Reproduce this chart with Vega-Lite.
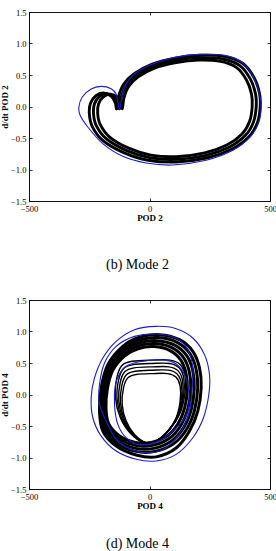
{
"$schema": "https://vega.github.io/schema/vega-lite/v6.json",
"padding": {"left": 0, "top": 7, "right": 0, "bottom": 0},
"spacing": 99,
"bounds": "flush",
"config": {
 "view": {"stroke": "#111", "strokeWidth": 1},
 "axis": {"domain": false, "grid": false, "labelFont": "Liberation Serif", "labelFontSize": 8.5, "labelColor": "#000", "titleFont": "Liberation Serif", "titleFontSize": 9, "titleFontWeight": "bold", "titleColor": "#000", "tickColor": "#000", "tickSize": -3, "tickWidth": 0.8, "labelFlush": false, "labelPadding": 6, "titlePadding": 1},
 "title": {"font": "Liberation Serif", "fontSize": 14, "fontWeight": "normal", "color": "#000", "orient": "bottom", "anchor": "middle", "dx": -12}
},
"datasets": {
"mode2": [
{"loop":"a","group":"band","i":1,"x":-112.7,"y":-0.032},{"loop":"a","group":"band","i":2,"x":-105.6,"y":0.143},{"loop":"a","group":"band","i":3,"x":-86.4,"y":0.319},{"loop":"a","group":"band","i":4,"x":-47.0,"y":0.470},{"loop":"a","group":"band","i":5,"x":18.7,"y":0.606},{"loop":"a","group":"band","i":6,"x":110.6,"y":0.696},{"loop":"a","group":"band","i":7,"x":202.7,"y":0.736},{"loop":"a","group":"band","i":8,"x":294.6,"y":0.716},{"loop":"a","group":"band","i":9,"x":360.3,"y":0.620},{"loop":"a","group":"band","i":10,"x":402.4,"y":0.420},{"loop":"a","group":"band","i":11,"x":423.4,"y":0.194},{"loop":"a","group":"band","i":12,"x":426.0,"y":-0.008},{"loop":"a","group":"band","i":13,"x":415.5,"y":-0.234},{"loop":"a","group":"band","i":14,"x":383.9,"y":-0.435},{"loop":"a","group":"band","i":15,"x":320.9,"y":-0.611},{"loop":"a","group":"band","i":16,"x":228.9,"y":-0.736},{"loop":"a","group":"band","i":17,"x":110.6,"y":-0.797},{"loop":"a","group":"band","i":18,"x":5.6,"y":-0.771},{"loop":"a","group":"band","i":19,"x":-86.4,"y":-0.661},{"loop":"a","group":"band","i":20,"x":-165.3,"y":-0.485},{"loop":"a","group":"band","i":21,"x":-204.7,"y":-0.284},{"loop":"a","group":"band","i":22,"x":-215.1,"y":-0.108},{"loop":"a","group":"band","i":23,"x":-211.2,"y":0.043},{"loop":"a","group":"band","i":24,"x":-191.6,"y":0.153},{"loop":"a","group":"band","i":25,"x":-162.6,"y":0.194},{"loop":"a","group":"band","i":26,"x":-132.4,"y":0.143},{"loop":"a","group":"band","i":27,"x":-117.9,"y":0.053},
{"loop":"b","group":"band","i":1,"x":-124.5,"y":-0.034},{"loop":"b","group":"band","i":2,"x":-117.0,"y":0.151},{"loop":"b","group":"band","i":3,"x":-96.8,"y":0.336},{"loop":"b","group":"band","i":4,"x":-55.3,"y":0.495},{"loop":"b","group":"band","i":5,"x":13.8,"y":0.638},{"loop":"b","group":"band","i":6,"x":110.6,"y":0.733},{"loop":"b","group":"band","i":7,"x":207.5,"y":0.775},{"loop":"b","group":"band","i":8,"x":304.3,"y":0.754},{"loop":"b","group":"band","i":9,"x":373.4,"y":0.653},{"loop":"b","group":"band","i":10,"x":417.7,"y":0.442},{"loop":"b","group":"band","i":11,"x":439.8,"y":0.204},{"loop":"b","group":"band","i":12,"x":442.6,"y":-0.008},{"loop":"b","group":"band","i":13,"x":431.5,"y":-0.246},{"loop":"b","group":"band","i":14,"x":398.3,"y":-0.458},{"loop":"b","group":"band","i":15,"x":331.9,"y":-0.643},{"loop":"b","group":"band","i":16,"x":235.1,"y":-0.775},{"loop":"b","group":"band","i":17,"x":110.6,"y":-0.839},{"loop":"b","group":"band","i":18,"x":0.0,"y":-0.812},{"loop":"b","group":"band","i":19,"x":-96.8,"y":-0.696},{"loop":"b","group":"band","i":20,"x":-179.8,"y":-0.511},{"loop":"b","group":"band","i":21,"x":-221.3,"y":-0.299},{"loop":"b","group":"band","i":22,"x":-232.3,"y":-0.114},{"loop":"b","group":"band","i":23,"x":-228.2,"y":0.045},{"loop":"b","group":"band","i":24,"x":-207.5,"y":0.161},{"loop":"b","group":"band","i":25,"x":-177.0,"y":0.204},{"loop":"b","group":"band","i":26,"x":-145.2,"y":0.151},{"loop":"b","group":"band","i":27,"x":-130.0,"y":0.056},
{"loop":"c","group":"band","i":1,"x":-136.3,"y":-0.036},{"loop":"c","group":"band","i":2,"x":-128.4,"y":0.159},{"loop":"c","group":"band","i":3,"x":-107.2,"y":0.353},{"loop":"c","group":"band","i":4,"x":-63.6,"y":0.520},{"loop":"c","group":"band","i":5,"x":8.9,"y":0.670},{"loop":"c","group":"band","i":6,"x":110.6,"y":0.770},{"loop":"c","group":"band","i":7,"x":212.3,"y":0.814},{"loop":"c","group":"band","i":8,"x":314.0,"y":0.792},{"loop":"c","group":"band","i":9,"x":386.5,"y":0.686},{"loop":"c","group":"band","i":10,"x":433.0,"y":0.464},{"loop":"c","group":"band","i":11,"x":456.2,"y":0.214},{"loop":"c","group":"band","i":12,"x":459.2,"y":-0.008},{"loop":"c","group":"band","i":13,"x":447.5,"y":-0.258},{"loop":"c","group":"band","i":14,"x":412.7,"y":-0.481},{"loop":"c","group":"band","i":15,"x":342.9,"y":-0.675},{"loop":"c","group":"band","i":16,"x":241.3,"y":-0.814},{"loop":"c","group":"band","i":17,"x":110.6,"y":-0.881},{"loop":"c","group":"band","i":18,"x":-5.6,"y":-0.853},{"loop":"c","group":"band","i":19,"x":-107.2,"y":-0.731},{"loop":"c","group":"band","i":20,"x":-194.3,"y":-0.537},{"loop":"c","group":"band","i":21,"x":-237.9,"y":-0.314},{"loop":"c","group":"band","i":22,"x":-249.5,"y":-0.120},{"loop":"c","group":"band","i":23,"x":-245.2,"y":0.047},{"loop":"c","group":"band","i":24,"x":-223.4,"y":0.169},{"loop":"c","group":"band","i":25,"x":-191.4,"y":0.214},{"loop":"c","group":"band","i":26,"x":-158.0,"y":0.159},{"loop":"c","group":"band","i":27,"x":-142.1,"y":0.059},
{"loop":"r","group":"ref","i":1,"x":-124.0,"y":-0.045},{"loop":"r","group":"ref","i":2,"x":-116.0,"y":0.12},{"loop":"r","group":"ref","i":3,"x":-104.0,"y":0.3},{"loop":"r","group":"ref","i":4,"x":-69.0,"y":0.495},{"loop":"r","group":"ref","i":5,"x":0.0,"y":0.653},{"loop":"r","group":"ref","i":6,"x":97.0,"y":0.775},{"loop":"r","group":"ref","i":7,"x":207.0,"y":0.828},{"loop":"r","group":"ref","i":8,"x":318.0,"y":0.807},{"loop":"r","group":"ref","i":9,"x":387.0,"y":0.69},{"loop":"r","group":"ref","i":10,"x":431.0,"y":0.468},{"loop":"r","group":"ref","i":11,"x":456.0,"y":0.204},{"loop":"r","group":"ref","i":12,"x":463.0,"y":-0.008},{"loop":"r","group":"ref","i":13,"x":454.0,"y":-0.246},{"loop":"r","group":"ref","i":14,"x":418.0,"y":-0.484},{"loop":"r","group":"ref","i":15,"x":346.0,"y":-0.696},{"loop":"r","group":"ref","i":16,"x":235.0,"y":-0.854},{"loop":"r","group":"ref","i":17,"x":97.0,"y":-0.929},{"loop":"r","group":"ref","i":18,"x":-14.0,"y":-0.897},{"loop":"r","group":"ref","i":19,"x":-111.0,"y":-0.791},{"loop":"r","group":"ref","i":20,"x":-194.0,"y":-0.59},{"loop":"r","group":"ref","i":21,"x":-256.0,"y":-0.325},{"loop":"r","group":"ref","i":22,"x":-288.0,"y":-0.14},{"loop":"r","group":"ref","i":23,"x":-293.0,"y":-0.008},{"loop":"r","group":"ref","i":24,"x":-279.0,"y":0.151},{"loop":"r","group":"ref","i":25,"x":-242.0,"y":0.278},{"loop":"r","group":"ref","i":26,"x":-201.0,"y":0.32},{"loop":"r","group":"ref","i":27,"x":-159.0,"y":0.283},{"loop":"r","group":"ref","i":28,"x":-138.0,"y":0.193},{"loop":"r","group":"ref","i":29,"x":-132.0,"y":0.08}
],
"mode4": [
{"loop":"o1","group":"band","i":1,"x":18.6,"y":0.760},{"loop":"o1","group":"band","i":2,"x":85.0,"y":0.697},{"loop":"o1","group":"band","i":3,"x":129.2,"y":0.549},{"loop":"o1","group":"band","i":4,"x":151.4,"y":0.338},{"loop":"o1","group":"band","i":5,"x":156.9,"y":0.085},{"loop":"o1","group":"band","i":6,"x":145.8,"y":-0.211},{"loop":"o1","group":"band","i":7,"x":118.2,"y":-0.464},{"loop":"o1","group":"band","i":8,"x":73.9,"y":-0.654},{"loop":"o1","group":"band","i":9,"x":7.6,"y":-0.760},{"loop":"o1","group":"band","i":10,"x":-58.8,"y":-0.760},{"loop":"o1","group":"band","i":11,"x":-125.2,"y":-0.654},{"loop":"o1","group":"band","i":12,"x":-169.5,"y":-0.464},{"loop":"o1","group":"band","i":13,"x":-180.6,"y":-0.211},{"loop":"o1","group":"band","i":14,"x":-175.0,"y":0.085},{"loop":"o1","group":"band","i":15,"x":-152.9,"y":0.380},{"loop":"o1","group":"band","i":16,"x":-103.1,"y":0.612},{"loop":"o1","group":"band","i":17,"x":-47.8,"y":0.726},
{"loop":"o2","group":"band","i":1,"x":24.3,"y":0.808},{"loop":"o2","group":"band","i":2,"x":94.8,"y":0.740},{"loop":"o2","group":"band","i":3,"x":141.8,"y":0.583},{"loop":"o2","group":"band","i":4,"x":165.4,"y":0.359},{"loop":"o2","group":"band","i":5,"x":171.2,"y":0.090},{"loop":"o2","group":"band","i":6,"x":159.4,"y":-0.224},{"loop":"o2","group":"band","i":7,"x":130.1,"y":-0.493},{"loop":"o2","group":"band","i":8,"x":83.0,"y":-0.695},{"loop":"o2","group":"band","i":9,"x":12.5,"y":-0.808},{"loop":"o2","group":"band","i":10,"x":-58.0,"y":-0.808},{"loop":"o2","group":"band","i":11,"x":-128.6,"y":-0.695},{"loop":"o2","group":"band","i":12,"x":-175.6,"y":-0.493},{"loop":"o2","group":"band","i":13,"x":-187.4,"y":-0.224},{"loop":"o2","group":"band","i":14,"x":-181.4,"y":0.090},{"loop":"o2","group":"band","i":15,"x":-158.0,"y":0.404},{"loop":"o2","group":"band","i":16,"x":-105.0,"y":0.650},{"loop":"o2","group":"band","i":17,"x":-46.3,"y":0.772},
{"loop":"o3","group":"band","i":1,"x":30.1,"y":0.855},{"loop":"o3","group":"band","i":2,"x":104.8,"y":0.784},{"loop":"o3","group":"band","i":3,"x":154.5,"y":0.617},{"loop":"o3","group":"band","i":4,"x":179.5,"y":0.380},{"loop":"o3","group":"band","i":5,"x":185.7,"y":0.095},{"loop":"o3","group":"band","i":6,"x":173.2,"y":-0.238},{"loop":"o3","group":"band","i":7,"x":142.1,"y":-0.522},{"loop":"o3","group":"band","i":8,"x":92.2,"y":-0.736},{"loop":"o3","group":"band","i":9,"x":17.6,"y":-0.855},{"loop":"o3","group":"band","i":10,"x":-57.1,"y":-0.855},{"loop":"o3","group":"band","i":11,"x":-131.8,"y":-0.736},{"loop":"o3","group":"band","i":12,"x":-181.5,"y":-0.522},{"loop":"o3","group":"band","i":13,"x":-194.1,"y":-0.238},{"loop":"o3","group":"band","i":14,"x":-187.8,"y":0.095},{"loop":"o3","group":"band","i":15,"x":-162.9,"y":0.428},{"loop":"o3","group":"band","i":16,"x":-106.8,"y":0.689},{"loop":"o3","group":"band","i":17,"x":-44.7,"y":0.817},
{"loop":"o4","group":"band","i":1,"x":35.8,"y":0.903},{"loop":"o4","group":"band","i":2,"x":114.6,"y":0.827},{"loop":"o4","group":"band","i":3,"x":167.2,"y":0.652},{"loop":"o4","group":"band","i":4,"x":193.5,"y":0.401},{"loop":"o4","group":"band","i":5,"x":200.0,"y":0.101},{"loop":"o4","group":"band","i":6,"x":186.8,"y":-0.251},{"loop":"o4","group":"band","i":7,"x":154.0,"y":-0.551},{"loop":"o4","group":"band","i":8,"x":101.4,"y":-0.777},{"loop":"o4","group":"band","i":9,"x":22.7,"y":-0.903},{"loop":"o4","group":"band","i":10,"x":-56.2,"y":-0.903},{"loop":"o4","group":"band","i":11,"x":-135.0,"y":-0.777},{"loop":"o4","group":"band","i":12,"x":-187.6,"y":-0.551},{"loop":"o4","group":"band","i":13,"x":-200.8,"y":-0.251},{"loop":"o4","group":"band","i":14,"x":-194.1,"y":0.101},{"loop":"o4","group":"band","i":15,"x":-167.9,"y":0.451},{"loop":"o4","group":"band","i":16,"x":-108.7,"y":0.727},{"loop":"o4","group":"band","i":17,"x":-43.1,"y":0.863},
{"loop":"o5","group":"band","i":1,"x":41.5,"y":0.950},{"loop":"o5","group":"band","i":2,"x":124.5,"y":0.871},{"loop":"o5","group":"band","i":3,"x":179.8,"y":0.686},{"loop":"o5","group":"band","i":4,"x":207.5,"y":0.422},{"loop":"o5","group":"band","i":5,"x":214.4,"y":0.106},{"loop":"o5","group":"band","i":6,"x":200.5,"y":-0.264},{"loop":"o5","group":"band","i":7,"x":166.0,"y":-0.580},{"loop":"o5","group":"band","i":8,"x":110.6,"y":-0.850},{"loop":"o5","group":"band","i":9,"x":27.7,"y":-0.990},{"loop":"o5","group":"band","i":10,"x":-55.3,"y":-0.960},{"loop":"o5","group":"band","i":11,"x":-138.3,"y":-0.818},{"loop":"o5","group":"band","i":12,"x":-193.6,"y":-0.580},{"loop":"o5","group":"band","i":13,"x":-207.5,"y":-0.264},{"loop":"o5","group":"band","i":14,"x":-200.5,"y":0.106},{"loop":"o5","group":"band","i":15,"x":-172.9,"y":0.475},{"loop":"o5","group":"band","i":16,"x":-110.6,"y":0.765},{"loop":"o5","group":"band","i":17,"x":-41.5,"y":0.908},
{"loop":"f1","group":"fine","i":1,"x":-107.9,"y":0.106},{"loop":"f1","group":"fine","i":2,"x":-89.9,"y":0.264},{"loop":"f1","group":"fine","i":3,"x":-55.3,"y":0.317},{"loop":"f1","group":"fine","i":4,"x":13.8,"y":0.332},{"loop":"f1","group":"fine","i":5,"x":76.1,"y":0.332},{"loop":"f1","group":"fine","i":6,"x":110.6,"y":0.274},{"loop":"f1","group":"fine","i":7,"x":127.2,"y":0.132},{"loop":"f1","group":"fine","i":8,"x":127.2,"y":-0.106},{"loop":"f1","group":"fine","i":9,"x":110.6,"y":-0.369},{"loop":"f1","group":"fine","i":10,"x":76.1,"y":-0.580},{"loop":"f1","group":"fine","i":11,"x":27.7,"y":-0.739},{"loop":"f1","group":"fine","i":12,"x":-13.8,"y":-0.765},{"loop":"f1","group":"fine","i":13,"x":-62.2,"y":-0.633},{"loop":"f1","group":"fine","i":14,"x":-96.8,"y":-0.422},{"loop":"f1","group":"fine","i":15,"x":-113.4,"y":-0.158},
{"loop":"f2","group":"fine","i":1,"x":-114.7,"y":0.148},{"loop":"f2","group":"fine","i":2,"x":-95.8,"y":0.314},{"loop":"f2","group":"fine","i":3,"x":-59.5,"y":0.370},{"loop":"f2","group":"fine","i":4,"x":13.1,"y":0.386},{"loop":"f2","group":"fine","i":5,"x":78.5,"y":0.386},{"loop":"f2","group":"fine","i":6,"x":114.7,"y":0.325},{"loop":"f2","group":"fine","i":7,"x":132.2,"y":0.176},{"loop":"f2","group":"fine","i":8,"x":132.2,"y":-0.074},{"loop":"f2","group":"fine","i":9,"x":114.7,"y":-0.350},{"loop":"f2","group":"fine","i":10,"x":78.5,"y":-0.572},{"loop":"f2","group":"fine","i":11,"x":27.7,"y":-0.739},{"loop":"f2","group":"fine","i":12,"x":-15.9,"y":-0.766},{"loop":"f2","group":"fine","i":13,"x":-66.7,"y":-0.628},{"loop":"f2","group":"fine","i":14,"x":-103.0,"y":-0.406},{"loop":"f2","group":"fine","i":15,"x":-120.5,"y":-0.129},
{"loop":"f3","group":"fine","i":1,"x":-121.5,"y":0.191},{"loop":"f3","group":"fine","i":2,"x":-101.7,"y":0.364},{"loop":"f3","group":"fine","i":3,"x":-63.6,"y":0.423},{"loop":"f3","group":"fine","i":4,"x":12.4,"y":0.439},{"loop":"f3","group":"fine","i":5,"x":80.9,"y":0.439},{"loop":"f3","group":"fine","i":6,"x":118.9,"y":0.375},{"loop":"f3","group":"fine","i":7,"x":137.2,"y":0.219},{"loop":"f3","group":"fine","i":8,"x":137.2,"y":-0.043},{"loop":"f3","group":"fine","i":9,"x":118.9,"y":-0.332},{"loop":"f3","group":"fine","i":10,"x":80.9,"y":-0.564},{"loop":"f3","group":"fine","i":11,"x":27.7,"y":-0.739},{"loop":"f3","group":"fine","i":12,"x":-18.0,"y":-0.768},{"loop":"f3","group":"fine","i":13,"x":-71.2,"y":-0.622},{"loop":"f3","group":"fine","i":14,"x":-109.3,"y":-0.390},{"loop":"f3","group":"fine","i":15,"x":-127.5,"y":-0.100},
{"loop":"f4","group":"fine","i":1,"x":-128.2,"y":0.233},{"loop":"f4","group":"fine","i":2,"x":-107.5,"y":0.414},{"loop":"f4","group":"fine","i":3,"x":-67.8,"y":0.475},{"loop":"f4","group":"fine","i":4,"x":11.7,"y":0.493},{"loop":"f4","group":"fine","i":5,"x":83.4,"y":0.493},{"loop":"f4","group":"fine","i":6,"x":123.0,"y":0.426},{"loop":"f4","group":"fine","i":7,"x":142.1,"y":0.263},{"loop":"f4","group":"fine","i":8,"x":142.1,"y":-0.011},{"loop":"f4","group":"fine","i":9,"x":123.0,"y":-0.313},{"loop":"f4","group":"fine","i":10,"x":83.4,"y":-0.556},{"loop":"f4","group":"fine","i":11,"x":27.7,"y":-0.739},{"loop":"f4","group":"fine","i":12,"x":-20.0,"y":-0.769},{"loop":"f4","group":"fine","i":13,"x":-75.7,"y":-0.617},{"loop":"f4","group":"fine","i":14,"x":-115.5,"y":-0.374},{"loop":"f4","group":"fine","i":15,"x":-134.6,"y":-0.071},
{"loop":"f5","group":"fine","i":1,"x":-135.0,"y":0.275},{"loop":"f5","group":"fine","i":2,"x":-113.4,"y":0.465},{"loop":"f5","group":"fine","i":3,"x":-71.9,"y":0.528},{"loop":"f5","group":"fine","i":4,"x":11.0,"y":0.546},{"loop":"f5","group":"fine","i":5,"x":85.8,"y":0.546},{"loop":"f5","group":"fine","i":6,"x":127.2,"y":0.477},{"loop":"f5","group":"fine","i":7,"x":147.1,"y":0.306},{"loop":"f5","group":"fine","i":8,"x":147.1,"y":0.021},{"loop":"f5","group":"fine","i":9,"x":127.2,"y":-0.295},{"loop":"f5","group":"fine","i":10,"x":85.8,"y":-0.548},{"loop":"f5","group":"fine","i":11,"x":27.7,"y":-0.739},{"loop":"f5","group":"fine","i":12,"x":-22.1,"y":-0.770},{"loop":"f5","group":"fine","i":13,"x":-80.2,"y":-0.612},{"loop":"f5","group":"fine","i":14,"x":-121.7,"y":-0.359},{"loop":"f5","group":"fine","i":15,"x":-141.6,"y":-0.042},
{"loop":"r1","group":"ref","i":1,"x":27.7,"y":1.082},{"loop":"r1","group":"ref","i":2,"x":110.6,"y":1.045},{"loop":"r1","group":"ref","i":3,"x":179.8,"y":0.897},{"loop":"r1","group":"ref","i":4,"x":228.2,"y":0.633},{"loop":"r1","group":"ref","i":5,"x":248.9,"y":0.317},{"loop":"r1","group":"ref","i":6,"x":246.2,"y":0.0},{"loop":"r1","group":"ref","i":7,"x":224.0,"y":-0.369},{"loop":"r1","group":"ref","i":8,"x":179.8,"y":-0.686},{"loop":"r1","group":"ref","i":9,"x":110.6,"y":-0.95},{"loop":"r1","group":"ref","i":10,"x":27.7,"y":-1.055},{"loop":"r1","group":"ref","i":11,"x":-55.3,"y":-1.029},{"loop":"r1","group":"ref","i":12,"x":-138.3,"y":-0.897},{"loop":"r1","group":"ref","i":13,"x":-200.5,"y":-0.66},{"loop":"r1","group":"ref","i":14,"x":-235.1,"y":-0.369},{"loop":"r1","group":"ref","i":15,"x":-242.0,"y":-0.053},{"loop":"r1","group":"ref","i":16,"x":-228.2,"y":0.264},{"loop":"r1","group":"ref","i":17,"x":-193.6,"y":0.58},{"loop":"r1","group":"ref","i":18,"x":-138.3,"y":0.844},{"loop":"r1","group":"ref","i":19,"x":-62.2,"y":1.029},
{"loop":"r2","group":"ref","i":1,"x":27.7,"y":0.96},{"loop":"r2","group":"ref","i":2,"x":110.6,"y":0.897},{"loop":"r2","group":"ref","i":3,"x":159.0,"y":0.712},{"loop":"r2","group":"ref","i":4,"x":179.8,"y":0.422},{"loop":"r2","group":"ref","i":5,"x":177.0,"y":0.106},{"loop":"r2","group":"ref","i":6,"x":166.0,"y":-0.264},{"loop":"r2","group":"ref","i":7,"x":131.4,"y":-0.58},{"loop":"r2","group":"ref","i":8,"x":69.2,"y":-0.844},{"loop":"r2","group":"ref","i":9,"x":8.3,"y":-0.923},{"loop":"r2","group":"ref","i":10,"x":-62.2,"y":-0.892},{"loop":"r2","group":"ref","i":11,"x":-132.8,"y":-0.734},{"loop":"r2","group":"ref","i":12,"x":-172.9,"y":-0.475},{"loop":"r2","group":"ref","i":13,"x":-207.5,"y":-0.158},{"loop":"r2","group":"ref","i":14,"x":-207.5,"y":0.158},{"loop":"r2","group":"ref","i":15,"x":-186.7,"y":0.501},{"loop":"r2","group":"ref","i":16,"x":-138.3,"y":0.765},{"loop":"r2","group":"ref","i":17,"x":-62.2,"y":0.923},
{"loop":"r3","group":"ref","i":1,"x":-89.9,"y":0.464},{"loop":"r3","group":"ref","i":2,"x":-27.7,"y":0.528},{"loop":"r3","group":"ref","i":3,"x":55.3,"y":0.549},{"loop":"r3","group":"ref","i":4,"x":110.6,"y":0.485},{"loop":"r3","group":"ref","i":5,"x":145.2,"y":0.317},{"loop":"r3","group":"ref","i":6,"x":163.2,"y":0.053},{"loop":"r3","group":"ref","i":7,"x":159.0,"y":-0.264},{"loop":"r3","group":"ref","i":8,"x":124.5,"y":-0.48},{"loop":"r3","group":"ref","i":9,"x":41.5,"y":-0.734},{"loop":"r3","group":"ref","i":10,"x":-41.5,"y":-0.797},{"loop":"r3","group":"ref","i":11,"x":-96.8,"y":-0.686},{"loop":"r3","group":"ref","i":12,"x":-131.4,"y":-0.475},{"loop":"r3","group":"ref","i":13,"x":-145.2,"y":-0.158},{"loop":"r3","group":"ref","i":14,"x":-141.1,"y":0.158},{"loop":"r3","group":"ref","i":15,"x":-121.7,"y":0.343}
]
},
"vconcat": [
{
 "width": 241, "height": 189,
 "data": {"name": "mode2"},
 "title": {"text": "(b) Mode 2", "offset": 35},
 "layer": [
  {"transform": [{"filter": "datum.group === 'band'"}],
   "mark": {"type": "line", "interpolate": "cardinal-closed", "color": "#000", "strokeWidth": 2.9},
   "encoding": {
    "x": {"field": "x", "type": "quantitative", "scale": {"domain": [-500, 500], "nice": false, "zero": false}, "axis": {"values": [-500, 0, 500], "title": "POD 2"}},
    "y": {"field": "y", "type": "quantitative", "scale": {"domain": [-1.5, 1.5], "nice": false, "zero": false}, "axis": {"values": [-1.5, -1, -0.5, 0, 0.5, 1, 1.5], "title": "d/dt POD 2"}},
    "detail": {"field": "loop"}, "order": {"field": "i", "type": "quantitative"}}},
  {"transform": [{"filter": "datum.group === 'ref'"}],
   "mark": {"type": "line", "interpolate": "cardinal-closed", "color": "#1c1cc8", "strokeWidth": 1.1},
   "encoding": {
    "x": {"field": "x", "type": "quantitative", "axis": null},
    "y": {"field": "y", "type": "quantitative", "axis": null},
    "detail": {"field": "loop"}, "order": {"field": "i", "type": "quantitative"}}},
  {"mark": {"type": "line", "opacity": 0},
   "encoding": {
    "x": {"field": "x", "type": "quantitative", "axis": {"orient": "top", "values": [-500, 0, 500], "labels": false, "title": null}},
    "y": {"field": "y", "type": "quantitative", "axis": {"orient": "right", "values": [-1.5, -1, -0.5, 0, 0.5, 1, 1.5], "labels": false, "title": null}},
    "detail": {"field": "loop"}}}
 ],
 "resolve": {"axis": {"x": "independent", "y": "independent"}}
},
{
 "width": 241, "height": 189,
 "data": {"name": "mode4"},
 "title": {"text": "(d) Mode 4", "offset": 26},
 "layer": [
  {"transform": [{"filter": "datum.group === 'band'"}],
   "mark": {"type": "line", "interpolate": "cardinal-closed", "color": "#000", "strokeWidth": 3},
   "encoding": {
    "x": {"field": "x", "type": "quantitative", "scale": {"domain": [-500, 500], "nice": false, "zero": false}, "axis": {"values": [-500, 0, 500], "title": "POD 4"}},
    "y": {"field": "y", "type": "quantitative", "scale": {"domain": [-1.5, 1.5], "nice": false, "zero": false}, "axis": {"values": [-1.5, -1, -0.5, 0, 0.5, 1, 1.5], "title": "d/dt POD 4"}},
    "detail": {"field": "loop"}, "order": {"field": "i", "type": "quantitative"}}},
  {"transform": [{"filter": "datum.group === 'fine'"}],
   "mark": {"type": "line", "interpolate": "cardinal-closed", "color": "#000", "strokeWidth": 1.4},
   "encoding": {
    "x": {"field": "x", "type": "quantitative", "axis": null},
    "y": {"field": "y", "type": "quantitative", "axis": null},
    "detail": {"field": "loop"}, "order": {"field": "i", "type": "quantitative"}}},
  {"transform": [{"filter": "datum.group === 'ref'"}],
   "mark": {"type": "line", "interpolate": "cardinal-closed", "color": "#1c1cc8", "strokeWidth": 1.1},
   "encoding": {
    "x": {"field": "x", "type": "quantitative", "axis": null},
    "y": {"field": "y", "type": "quantitative", "axis": null},
    "detail": {"field": "loop"}, "order": {"field": "i", "type": "quantitative"}}},
  {"mark": {"type": "line", "opacity": 0},
   "encoding": {
    "x": {"field": "x", "type": "quantitative", "axis": {"orient": "top", "values": [-500, 0, 500], "labels": false, "title": null}},
    "y": {"field": "y", "type": "quantitative", "axis": {"orient": "right", "values": [-1.5, -1, -0.5, 0, 0.5, 1, 1.5], "labels": false, "title": null}},
    "detail": {"field": "loop"}}}
 ],
 "resolve": {"axis": {"x": "independent", "y": "independent"}}
}
]
}
